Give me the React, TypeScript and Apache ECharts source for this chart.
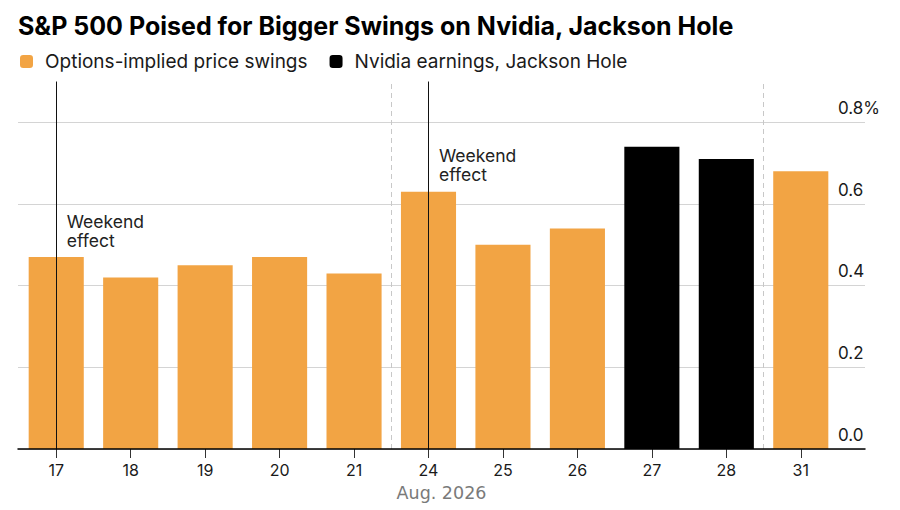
import React, { useEffect, useRef } from 'react';
import * as echarts from 'echarts';

const chartTitle = 'S&P 500 Poised for Bigger Swings on Nvidia, Jackson Hole';
const seriesNames = ['Options-implied price swings', 'Nvidia earnings, Jackson Hole'];
const categories = ['17', '18', '19', '20', '21', '24', '25', '26', '27', '28', '31'];
const optionsSwings = [0.47, 0.42, 0.45, 0.47, 0.43, 0.63, 0.5, 0.54, null, null, 0.68];
const eventSwings = [null, null, null, null, null, null, null, null, 0.74, 0.71, null];
const weekendDays = ['17', '24'];
const weekBreaks = [4.5, 9.5];
const annotationText = 'Weekend\neffect';
const xAxisTitle = 'Aug. 2026';
const yMax = 0.8;
const yInterval = 0.2;

const ORANGE = '#F2A444';
const FONT = "Inter, 'Liberation Sans', Arial, sans-serif";
const AXIS_Y = 449;
const PX_PER_UNIT = 408.3;
const BAR_TOP_MAX = 0.9;

export default function App() {
  const ref = useRef<HTMLDivElement>(null);

  useEffect(() => {
    document.body.style.margin = '0';
    if (!ref.current) return;
    const chart = echarts.init(ref.current, undefined, { renderer: 'svg' });
    const bottom = 510 - AXIS_Y;

    const option: any = {
      animation: false,
      backgroundColor: '#fff',
      title: {
        text: chartTitle,
        left: 18,
        top: 13,
        padding: 0,
        textStyle: { fontSize: 25, fontWeight: 700, color: '#000', fontFamily: FONT },
      },
      legend: {
        left: 20,
        top: 52,
        padding: 0,
        itemWidth: 13,
        itemHeight: 13,
        itemGap: 22,
        icon: 'roundRect',
        selectedMode: false,
        data: seriesNames,
        textStyle: { fontSize: 19, color: '#1a1a1a', fontFamily: FONT, padding: [0, 0, 0, 7] },
      },
      grid: [
        { left: 19, right: 62, top: AXIS_Y - BAR_TOP_MAX * PX_PER_UNIT, bottom },
        { left: 18, right: 35, top: AXIS_Y - yMax * PX_PER_UNIT, bottom },
      ],
      xAxis: [
        {
          type: 'category',
          gridIndex: 0,
          data: categories,
          axisLine: { show: false },
          axisTick: { show: true, alignWithLabel: true, length: 9, lineStyle: { color: '#333', width: 1 } },
          axisLabel: { fontSize: 16, color: '#1a1a1a', margin: 13, fontFamily: FONT },
          splitLine: { show: false },
          name: xAxisTitle,
          nameLocation: 'middle',
          nameGap: 35,
          nameTextStyle: {
            fontSize: 17.5,
            color: '#7a7a7a',
            fontFamily: "'DejaVu Sans', sans-serif",
            padding: [0, 0, 0, 26],
          },
        },
        { type: 'value', gridIndex: 0, min: -0.5, max: categories.length - 0.5, show: false },
        {
          type: 'value',
          gridIndex: 1,
          min: 0,
          max: 1,
          z: 10,
          axisLine: { show: true, lineStyle: { color: '#000', width: 1.5 } },
          axisTick: { show: false },
          axisLabel: { show: false },
          splitLine: { show: false },
        },
      ],
      yAxis: [
        { type: 'value', gridIndex: 0, min: 0, max: BAR_TOP_MAX, show: false },
        {
          type: 'value',
          gridIndex: 1,
          min: 0,
          max: yMax,
          interval: yInterval,
          position: 'right',
          axisLine: { show: false },
          axisTick: { show: false },
          splitLine: { show: true, lineStyle: { color: '#d4d4d4', width: 1 } },
          axisLabel: {
            inside: true,
            align: 'left',
            verticalAlign: 'bottom',
            margin: 27,
            padding: [0, 0, 6, 0],
            fontSize: 17,
            color: '#1a1a1a',
            fontFamily: FONT,
            formatter: (v: number) => (Math.abs(v - yMax) < 1e-9 ? v.toFixed(1) + '%' : v.toFixed(1)),
          },
        },
      ],
      series: [
        {
          name: seriesNames[0],
          type: 'bar',
          xAxisIndex: 0,
          yAxisIndex: 0,
          stack: 'v',
          barCategoryGap: '26%',
          data: optionsSwings,
          itemStyle: { color: ORANGE },
          markLine: {
            silent: true,
            symbol: ['none', 'none'],
            label: { show: false },
            lineStyle: { color: '#111', width: 1, type: 'solid' },
            data: weekendDays.map((d) => ({ xAxis: d })),
          },
          markPoint: {
            silent: true,
            symbol: 'rect',
            symbolSize: 1,
            itemStyle: { color: 'rgba(0,0,0,0)' },
            label: {
              show: true,
              position: [11, -45],
              formatter: annotationText,
              fontSize: 17.5,
              lineHeight: 19,
              color: '#222',
              fontFamily: FONT,
            },
            data: weekendDays.map((d) => ({ coord: [d, optionsSwings[categories.indexOf(d)]] })),
          },
        },
        {
          name: seriesNames[1],
          type: 'bar',
          xAxisIndex: 0,
          yAxisIndex: 0,
          stack: 'v',
          barCategoryGap: '26%',
          data: eventSwings,
          itemStyle: { color: '#000' },
        },
        {
          name: 'weekBreaks',
          type: 'line',
          xAxisIndex: 1,
          yAxisIndex: 0,
          data: [[weekBreaks[0], 0]],
          showSymbol: false,
          symbolSize: 0,
          lineStyle: { opacity: 0 },
          silent: true,
          markLine: {
            silent: true,
            symbol: ['none', 'none'],
            label: { show: false },
            lineStyle: { color: '#c8c8c8', width: 1, type: [5, 4] },
            data: weekBreaks.map((v) => ({ xAxis: v })),
          },
        },
      ],
    };

    chart.setOption(option);
    return () => chart.dispose();
  }, []);

  return <div ref={ref} style={{ width: 900, height: 510 }} />;
}
